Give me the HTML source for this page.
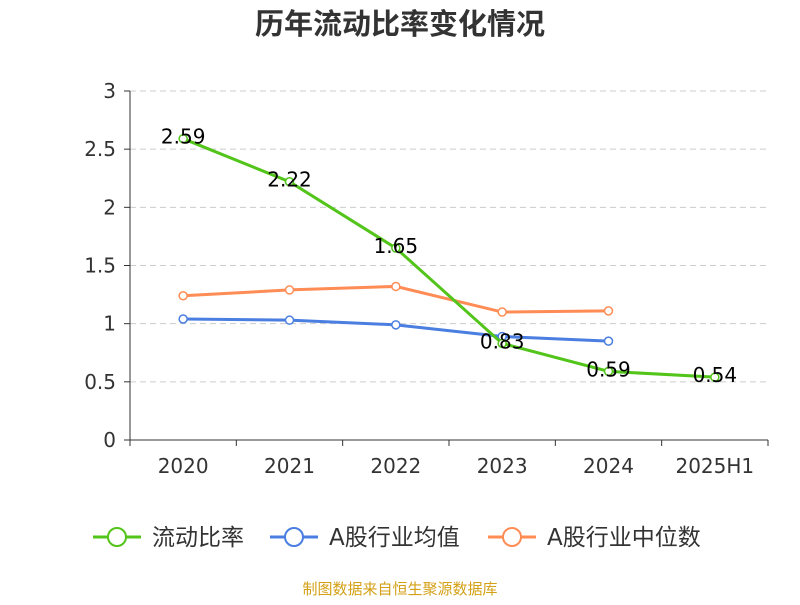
<!DOCTYPE html>
<html><head><meta charset="utf-8"><style>
body{margin:0;background:#fff;}
svg text{font-family:"DejaVu Sans","Noto Sans CJK SC",sans-serif;}
</style></head><body>
<svg id="chart" width="800" height="600" xmlns="http://www.w3.org/2000/svg">
<text x="400" y="34" text-anchor="middle" font-size="29" font-weight="bold" fill="#333" font-family="Noto Sans CJK SC, sans-serif">历年流动比率变化情况</text>
<g id="grid"></g><g id="axes"></g><g id="series"></g>
<g font-size="23" fill="#333">
<g><line x1="93" y1="537" x2="141" y2="537" stroke="#52c41a" stroke-width="3"/><circle cx="117" cy="537" r="9" fill="#fff" stroke="#52c41a" stroke-width="2"/><text x="152" y="545">流动比率</text></g>
<g><line x1="270" y1="537" x2="318" y2="537" stroke="#4a7ee0" stroke-width="3"/><circle cx="294" cy="537" r="9" fill="#fff" stroke="#4a7ee0" stroke-width="2"/><text x="329" y="545">A股行业均值</text></g>
<g><line x1="488" y1="537" x2="536" y2="537" stroke="#ff8c55" stroke-width="3"/><circle cx="512" cy="537" r="9" fill="#fff" stroke="#ff8c55" stroke-width="2"/><text x="547" y="545">A股行业中位数</text></g>
</g>
<text x="400" y="594" text-anchor="middle" font-size="15" fill="#d4a017">制图数据来自恒生聚源数据库</text>
</svg>
<script>
const categories=["2020","2021","2022","2023","2024","2025H1"];
const currentRatio=[2.59,2.22,1.65,0.83,0.59,0.54];
const industryAvg=[1.04,1.03,0.99,0.89,0.85];
const industryMedian=[1.24,1.29,1.32,1.10,1.11];
const yTicks=[0,0.5,1,1.5,2,2.5,3];
const NS="http://www.w3.org/2000/svg";
const x0=130,x1=768,y0=440,y1=91;
const step=(x1-x0)/categories.length;
const xs=i=>x0+step*(i+0.5);
const ys=v=>y0-(v/3)*(y0-y1);
function mk(t,a,p){const e=document.createElementNS(NS,t);for(const k in a)e.setAttribute(k,a[k]);p.appendChild(e);return e;}
const grid=document.getElementById('grid'),axes=document.getElementById('axes'),ser=document.getElementById('series');
yTicks.forEach(v=>{
 if(v>0){const g=mk('line',{x1:x0,x2:x1,y1:ys(v),y2:ys(v),stroke:'#ccc','stroke-dasharray':'6,4'},grid);
 
 }
 const t=mk('text',{x:x0-14,y:ys(v)+7,'text-anchor':'end','font-size':20,fill:'#333'},axes);t.textContent=v;
 
 
 mk('line',{x1:x0-6,x2:x0,y1:ys(v),y2:ys(v),stroke:'#333'},axes);
});
const ya=mk('line',{x1:x0,x2:x0,y1:y1,y2:y0,stroke:'#333'},axes);


const xa=mk('line',{x1:x0,x2:x1,y1:y0,y2:y0,stroke:'#333'},axes);


for(let i=0;i<=categories.length;i++)mk('line',{x1:x0+step*i,x2:x0+step*i,y1:y0,y2:y0+6,stroke:'#333'},axes);
categories.forEach((c,i)=>{const t=mk('text',{x:xs(i),y:y0+33,'text-anchor':'middle','font-size':20,fill:'#333'},axes);t.textContent=c;
 
 });
function draw(data,color,name,labels){
 const p=mk('polyline',{points:data.map((v,i)=>xs(i)+','+ys(v)).join(' '),fill:'none',stroke:color,'stroke-width':3},ser);
 
 
 data.forEach((v,i)=>{const c=mk('circle',{cx:xs(i),cy:ys(v),r:4,fill:'#fff',stroke:color,'stroke-width':1.5},ser);
  
  
  if(labels){const t=mk('text',{x:xs(i),y:ys(v)+5,'text-anchor':'middle','font-size':20,fill:'#000'},ser);t.textContent=v.toFixed(2);
  
  }
 });
}
draw(industryAvg,'#4a7ee0','industry-average',false);
draw(industryMedian,'#ff8c55','industry-median',false);
draw(currentRatio,'#52c41a','current-ratio',true);
</script>
</body></html>
